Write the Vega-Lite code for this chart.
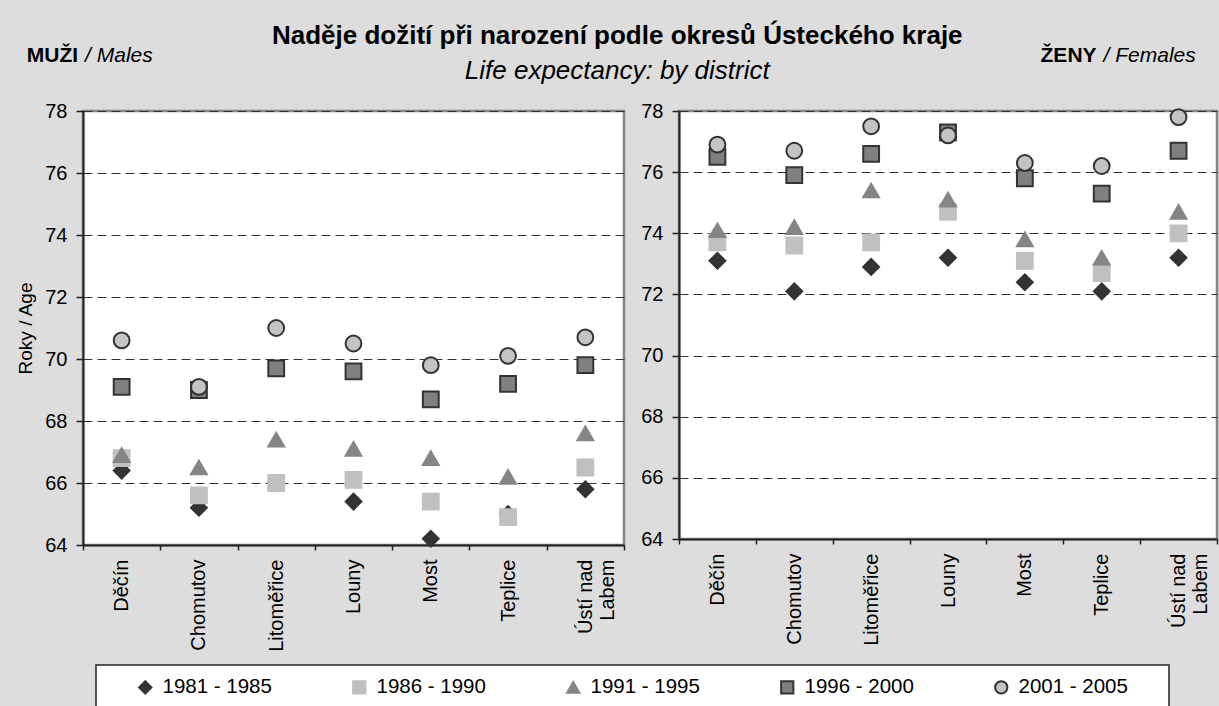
{
  "$schema": "https://vega.github.io/schema/vega-lite/v6.json",
  "background": "#dddddd",
  "padding": {"left": 15, "top": 22, "right": 0, "bottom": 0},
  "config": {
    "font": "Liberation Sans",
    "view": {"fill": "white", "stroke": "#858585", "strokeWidth": 2.5},
    "axis": {"labelFont": "Liberation Sans", "labelFontSize": 20, "labelColor": "#000", "tickColor": "#222", "domainColor": "#222", "domainWidth": 2, "tickWidth": 1.5, "titleFont": "Liberation Sans", "titleFontSize": 19, "titleFontWeight": "normal", "titleColor": "#000"},
    "axisX": {"labelAngle": -90, "tickBand": "extent", "tickSize": 5, "labelPadding": 9, "grid": false, "title": null},
    "axisY": {"tickSize": 7, "labelPadding": 9, "grid": true, "gridColor": "#333", "gridDash": [9, 5], "gridWidth": 1},
    "legend": {"orient": "none", "legendX": 13, "legendY": 554, "direction": "horizontal", "fillColor": "white", "strokeColor": "#222", "strokeWidth": 1.5, "padding": 12, "labelFont": "Liberation Sans", "labelFontSize": 20.5, "labelColor": "#000", "symbolSize": 150, "symbolStrokeWidth": 2, "labelOffset": 7, "columnPadding": 48, "gridAlign": "all", "titleOrient": "left", "titleFontSize": 20, "titlePadding": 21, "labelLimit": 0}
  },
  "title": {"text": "Naděje dožití při narození podle okresů Ústeckého kraje", "subtitle": "Life expectancy: by district", "font": "Liberation Sans", "subtitleFont": "Liberation Sans", "fontSize": 26, "fontWeight": "bold", "subtitleFontSize": 26, "subtitleFontStyle": "italic", "subtitlePadding": 9, "anchor": "middle", "offset": -40, "color": "#000", "subtitleColor": "#000"},
  "datasets": {
    "rows": [
      {"sex": "M", "district": "Děčín", "period": "1981 - 1985", "value": 66.4},
      {"sex": "M", "district": "Chomutov", "period": "1981 - 1985", "value": 65.2},
      {"sex": "M", "district": "Litoměřice", "period": "1981 - 1985", "value": 66.0},
      {"sex": "M", "district": "Louny", "period": "1981 - 1985", "value": 65.4},
      {"sex": "M", "district": "Most", "period": "1981 - 1985", "value": 64.2},
      {"sex": "M", "district": "Teplice", "period": "1981 - 1985", "value": 65.0},
      {"sex": "M", "district": "Ústí nad Labem", "period": "1981 - 1985", "value": 65.8},
      {"sex": "M", "district": "Děčín", "period": "1986 - 1990", "value": 66.8},
      {"sex": "M", "district": "Chomutov", "period": "1986 - 1990", "value": 65.6},
      {"sex": "M", "district": "Litoměřice", "period": "1986 - 1990", "value": 66.0},
      {"sex": "M", "district": "Louny", "period": "1986 - 1990", "value": 66.1},
      {"sex": "M", "district": "Most", "period": "1986 - 1990", "value": 65.4},
      {"sex": "M", "district": "Teplice", "period": "1986 - 1990", "value": 64.9},
      {"sex": "M", "district": "Ústí nad Labem", "period": "1986 - 1990", "value": 66.5},
      {"sex": "M", "district": "Děčín", "period": "1991 - 1995", "value": 66.9},
      {"sex": "M", "district": "Chomutov", "period": "1991 - 1995", "value": 66.5},
      {"sex": "M", "district": "Litoměřice", "period": "1991 - 1995", "value": 67.4},
      {"sex": "M", "district": "Louny", "period": "1991 - 1995", "value": 67.1},
      {"sex": "M", "district": "Most", "period": "1991 - 1995", "value": 66.8},
      {"sex": "M", "district": "Teplice", "period": "1991 - 1995", "value": 66.2},
      {"sex": "M", "district": "Ústí nad Labem", "period": "1991 - 1995", "value": 67.6},
      {"sex": "M", "district": "Děčín", "period": "1996 - 2000", "value": 69.1},
      {"sex": "M", "district": "Chomutov", "period": "1996 - 2000", "value": 69.0},
      {"sex": "M", "district": "Litoměřice", "period": "1996 - 2000", "value": 69.7},
      {"sex": "M", "district": "Louny", "period": "1996 - 2000", "value": 69.6},
      {"sex": "M", "district": "Most", "period": "1996 - 2000", "value": 68.7},
      {"sex": "M", "district": "Teplice", "period": "1996 - 2000", "value": 69.2},
      {"sex": "M", "district": "Ústí nad Labem", "period": "1996 - 2000", "value": 69.8},
      {"sex": "M", "district": "Děčín", "period": "2001 - 2005", "value": 70.6},
      {"sex": "M", "district": "Chomutov", "period": "2001 - 2005", "value": 69.1},
      {"sex": "M", "district": "Litoměřice", "period": "2001 - 2005", "value": 71.0},
      {"sex": "M", "district": "Louny", "period": "2001 - 2005", "value": 70.5},
      {"sex": "M", "district": "Most", "period": "2001 - 2005", "value": 69.8},
      {"sex": "M", "district": "Teplice", "period": "2001 - 2005", "value": 70.1},
      {"sex": "M", "district": "Ústí nad Labem", "period": "2001 - 2005", "value": 70.7},
      {"sex": "Z", "district": "Děčín", "period": "1981 - 1985", "value": 73.1},
      {"sex": "Z", "district": "Chomutov", "period": "1981 - 1985", "value": 72.1},
      {"sex": "Z", "district": "Litoměřice", "period": "1981 - 1985", "value": 72.9},
      {"sex": "Z", "district": "Louny", "period": "1981 - 1985", "value": 73.2},
      {"sex": "Z", "district": "Most", "period": "1981 - 1985", "value": 72.4},
      {"sex": "Z", "district": "Teplice", "period": "1981 - 1985", "value": 72.1},
      {"sex": "Z", "district": "Ústí nad Labem", "period": "1981 - 1985", "value": 73.2},
      {"sex": "Z", "district": "Děčín", "period": "1986 - 1990", "value": 73.7},
      {"sex": "Z", "district": "Chomutov", "period": "1986 - 1990", "value": 73.6},
      {"sex": "Z", "district": "Litoměřice", "period": "1986 - 1990", "value": 73.7},
      {"sex": "Z", "district": "Louny", "period": "1986 - 1990", "value": 74.7},
      {"sex": "Z", "district": "Most", "period": "1986 - 1990", "value": 73.1},
      {"sex": "Z", "district": "Teplice", "period": "1986 - 1990", "value": 72.7},
      {"sex": "Z", "district": "Ústí nad Labem", "period": "1986 - 1990", "value": 74.0},
      {"sex": "Z", "district": "Děčín", "period": "1991 - 1995", "value": 74.1},
      {"sex": "Z", "district": "Chomutov", "period": "1991 - 1995", "value": 74.2},
      {"sex": "Z", "district": "Litoměřice", "period": "1991 - 1995", "value": 75.4},
      {"sex": "Z", "district": "Louny", "period": "1991 - 1995", "value": 75.1},
      {"sex": "Z", "district": "Most", "period": "1991 - 1995", "value": 73.8},
      {"sex": "Z", "district": "Teplice", "period": "1991 - 1995", "value": 73.2},
      {"sex": "Z", "district": "Ústí nad Labem", "period": "1991 - 1995", "value": 74.7},
      {"sex": "Z", "district": "Děčín", "period": "1996 - 2000", "value": 76.5},
      {"sex": "Z", "district": "Chomutov", "period": "1996 - 2000", "value": 75.9},
      {"sex": "Z", "district": "Litoměřice", "period": "1996 - 2000", "value": 76.6},
      {"sex": "Z", "district": "Louny", "period": "1996 - 2000", "value": 77.3},
      {"sex": "Z", "district": "Most", "period": "1996 - 2000", "value": 75.8},
      {"sex": "Z", "district": "Teplice", "period": "1996 - 2000", "value": 75.3},
      {"sex": "Z", "district": "Ústí nad Labem", "period": "1996 - 2000", "value": 76.7},
      {"sex": "Z", "district": "Děčín", "period": "2001 - 2005", "value": 76.9},
      {"sex": "Z", "district": "Chomutov", "period": "2001 - 2005", "value": 76.7},
      {"sex": "Z", "district": "Litoměřice", "period": "2001 - 2005", "value": 77.5},
      {"sex": "Z", "district": "Louny", "period": "2001 - 2005", "value": 77.2},
      {"sex": "Z", "district": "Most", "period": "2001 - 2005", "value": 76.3},
      {"sex": "Z", "district": "Teplice", "period": "2001 - 2005", "value": 76.2},
      {"sex": "Z", "district": "Ústí nad Labem", "period": "2001 - 2005", "value": 77.8}
    ]
  },
  "spacing": 13,
  "hconcat": [
    {
      "width": 541,
      "height": 434,
      "data": {"name": "rows"},
      "transform": [{"filter": "datum.sex == 'M'"}],
      "title": {"text": "MUŽI", "subtitle": "\u200b\u00a0\u00a0\u00a0\u00a0\u00a0\u00a0\u00a0\u00a0\u00a0\u00a0/ Males", "anchor": "start", "frame": "bounds", "font": "Liberation Sans", "subtitleFont": "Liberation Sans", "fontSize": 21, "fontWeight": "bold", "subtitleFontSize": 21, "subtitleFontStyle": "italic", "subtitlePadding": -21, "offset": 35, "dx": 10, "color": "#000", "subtitleColor": "#000"},
      "mark": {"type": "point", "filled": true, "opacity": 1, "size": 250, "strokeWidth": 2},
      "encoding": {
        "x": {"field": "district", "type": "nominal", "sort": ["Děčín", "Chomutov", "Litoměřice", "Louny", "Most", "Teplice", "Ústí nad Labem"], "scale": {"type": "band", "paddingInner": 0, "paddingOuter": 0}, "axis": {"labelExpr": "datum.value == 'Ústí nad Labem' ? ['Ústí nad', 'Labem'] : datum.label"}},
        "y": {"field": "value", "type": "quantitative", "scale": {"domain": [64, 78], "nice": false, "zero": false}, "axis": {"values": [64, 66, 68, 70, 72, 74, 76, 78], "title": "Roky / Age", "titlePadding": 9}},
        "shape": {"field": "period", "type": "nominal", "title": "\u200b\u00a0\u200b", "scale": {"domain": ["1981 - 1985", "1986 - 1990", "1991 - 1995", "1996 - 2000", "2001 - 2005"], "range": ["diamond", "square", "triangle-up", "square", "circle"]}, "legend": {"labelExpr": "datum.label + '\u00a0\u00a0\u00a0\u00a0\u00a0\u200b'"}},
        "fill": {"field": "period", "type": "nominal", "title": "\u200b\u00a0\u200b", "scale": {"domain": ["1981 - 1985", "1986 - 1990", "1991 - 1995", "1996 - 2000", "2001 - 2005"], "range": ["#333333", "#c0c0c0", "#858585", "#808080", "#c4c4c4"]}, "legend": {"labelExpr": "datum.label + '\u00a0\u00a0\u00a0\u00a0\u00a0\u200b'"}},
        "stroke": {"field": "period", "type": "nominal", "title": "\u200b\u00a0\u200b", "scale": {"domain": ["1981 - 1985", "1986 - 1990", "1991 - 1995", "1996 - 2000", "2001 - 2005"], "range": ["#333333", "#c0c0c0", "#858585", "#333333", "#333333"]}, "legend": {"labelExpr": "datum.label + '\u00a0\u00a0\u00a0\u00a0\u00a0\u200b'"}}
      }
    },
    {
      "width": 538,
      "height": 428,
      "data": {"name": "rows"},
      "transform": [{"filter": "datum.sex == 'Z'"}],
      "title": {"text": "ŽENY\u00a0\u00a0\u00a0\u00a0\u00a0\u00a0\u00a0\u00a0\u00a0\u00a0\u00a0\u00a0\u00a0\u00a0\u00a0\u00a0\u00a0\u200b", "subtitle": "/ Females", "anchor": "end", "frame": "bounds", "font": "Liberation Sans", "subtitleFont": "Liberation Sans", "fontSize": 21, "fontWeight": "bold", "subtitleFontSize": 21, "subtitleFontStyle": "italic", "subtitlePadding": -21, "offset": 35, "dx": -22, "color": "#000", "subtitleColor": "#000"},
      "mark": {"type": "point", "filled": true, "opacity": 1, "size": 250, "strokeWidth": 2},
      "encoding": {
        "x": {"field": "district", "type": "nominal", "sort": ["Děčín", "Chomutov", "Litoměřice", "Louny", "Most", "Teplice", "Ústí nad Labem"], "scale": {"type": "band", "paddingInner": 0, "paddingOuter": 0}, "axis": {"labelExpr": "datum.value == 'Ústí nad Labem' ? ['Ústí nad', 'Labem'] : datum.label"}},
        "y": {"field": "value", "type": "quantitative", "scale": {"domain": [64, 78], "nice": false, "zero": false}, "axis": {"values": [64, 66, 68, 70, 72, 74, 76, 78], "title": null}},
        "shape": {"field": "period", "type": "nominal", "title": "\u200b\u00a0\u200b", "scale": {"domain": ["1981 - 1985", "1986 - 1990", "1991 - 1995", "1996 - 2000", "2001 - 2005"], "range": ["diamond", "square", "triangle-up", "square", "circle"]}, "legend": {"labelExpr": "datum.label + '\u00a0\u00a0\u00a0\u00a0\u00a0\u200b'"}},
        "fill": {"field": "period", "type": "nominal", "title": "\u200b\u00a0\u200b", "scale": {"domain": ["1981 - 1985", "1986 - 1990", "1991 - 1995", "1996 - 2000", "2001 - 2005"], "range": ["#333333", "#c0c0c0", "#858585", "#808080", "#c4c4c4"]}, "legend": {"labelExpr": "datum.label + '\u00a0\u00a0\u00a0\u00a0\u00a0\u200b'"}},
        "stroke": {"field": "period", "type": "nominal", "title": "\u200b\u00a0\u200b", "scale": {"domain": ["1981 - 1985", "1986 - 1990", "1991 - 1995", "1996 - 2000", "2001 - 2005"], "range": ["#333333", "#c0c0c0", "#858585", "#333333", "#333333"]}, "legend": {"labelExpr": "datum.label + '\u00a0\u00a0\u00a0\u00a0\u00a0\u200b'"}}
      }
    }
  ]
}
